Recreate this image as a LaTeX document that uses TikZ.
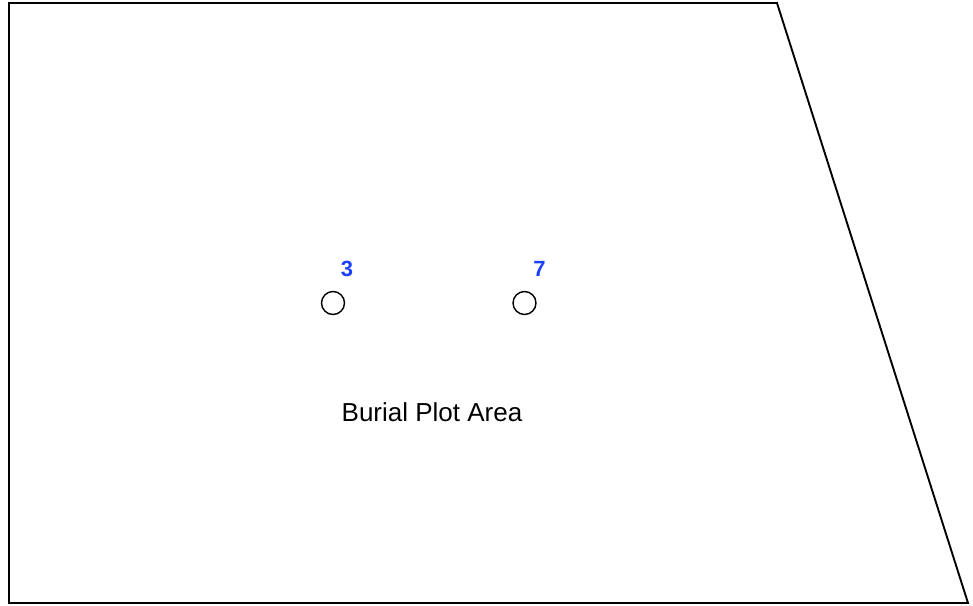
\documentclass[tikz,border=0pt]{standalone}
\usepackage{fontspec}
\setmainfont{Liberation Sans}
\definecolor{lblblue}{RGB}{26,64,255}
\begin{document}
\begin{tikzpicture}[x=1pt,y=-1pt,
  edge/.style={draw=black,line width=1.9pt,line join=miter},
  hole/.style={circle,draw=black,line width=1.4pt,minimum size=23pt,inner sep=0pt},
  num/.style={text=lblblue,font=\fontsize{22}{22}\selectfont\bfseries,inner sep=0pt},
  area/.style={font=\fontsize{26}{26}\selectfont,inner sep=0pt}]
\useasboundingbox (0,0) rectangle (973,605);
\coordinate (tl) at (9,3);
\coordinate (tr) at (777,3);
\coordinate (br) at (968,603);
\coordinate (bl) at (9,603);
\draw[edge] (tl) -- (tr) -- (br) -- (bl) -- cycle;
\node[hole] (h3) at (333,303) {};
\node[hole] (h7) at (524.5,303) {};
\node[num] (n3) at (347,269) {3};
\node[num] (n7) at (539.5,269) {7};
\node[area] (lbl) at (432,412) {Burial Plot Area};
\end{tikzpicture}
\end{document}
